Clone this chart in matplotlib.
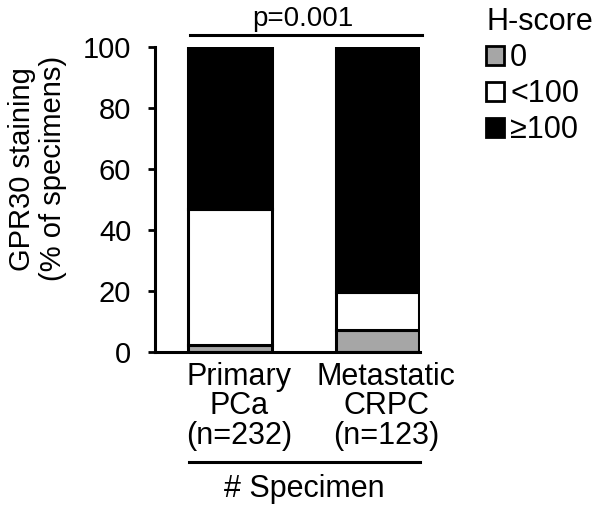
import matplotlib
matplotlib.use('Agg')
import matplotlib.pyplot as plt
import matplotlib.transforms as mtransforms
from matplotlib.patches import Patch

plt.rcParams['font.family'] = ['Liberation Sans', 'DejaVu Sans']

# data (% of specimens)
groups = ['Primary\nPCa\n(n=232)', 'Metastatic\nCRPC\n(n=123)']
score_labels = ['0', '<100', '≥100']
score_colors = ['#a6a6a6', 'white', 'black']
score_0 = [2.2, 7.3]
score_lt100 = [44.5, 12.4]
score_ge100 = [53.3, 80.3]

fig = plt.figure(figsize=(6, 5.12), dpi=100)
ax = fig.add_axes([0.258, 0.3125, 0.442, 0.596])

x = [0, 1]
bottom = [0, 0]
for vals, col in zip([score_0, score_lt100, score_ge100], score_colors):
    ax.bar(x, vals, width=0.565, bottom=bottom, color=col,
           edgecolor='black', linewidth=2.2)
    bottom = [b + v for b, v in zip(bottom, vals)]

ax.set_xlim(-0.51, 1.29)
ax.set_ylim(0, 100)
ax.set_yticks([0, 20, 40, 60, 80, 100])
ax.tick_params(axis='y', labelsize=21, width=2, length=5, pad=12, direction='out')
ax.set_xticks(x)
ax.set_xticklabels(groups, fontsize=22, linespacing=0.98)
ax.tick_params(axis='x', length=0, pad=7)
# labels sit a bit right of the bar centres in the original
shift = mtransforms.ScaledTranslation(0.09, 0, fig.dpi_scale_trans)
for lab in ax.get_xticklabels():
    lab.set_transform(lab.get_transform() + shift)
for s in ['top', 'right']:
    ax.spines[s].set_visible(False)
for s in ['left', 'bottom']:
    ax.spines[s].set_linewidth(2.2)

ax.set_ylabel('GPR30 staining\n(% of specimens)', fontsize=21, linespacing=1.15)
ax.yaxis.set_label_coords(-0.33, 0.6)

# significance line
fig.add_artist(plt.Line2D([0.317, 0.703], [0.932, 0.932], color='black', lw=2.2))
fig.text(0.505, 0.962, 'p=0.001', ha='center', va='center', fontsize=20)

# specimen line
fig.add_artist(plt.Line2D([0.315, 0.70], [0.098, 0.098], color='black', lw=2.2))
fig.text(0.508, 0.045, '# Specimen', ha='center', va='center', fontsize=22)

handles = [Patch(facecolor=c, edgecolor='black', linewidth=2) for c in score_colors]
fig.legend(handles, score_labels, title='H-score', loc='upper left',
           bbox_to_anchor=(0.79, 1.01), frameon=False, fontsize=22,
           title_fontsize=22, handlelength=0.58, handleheight=0.58,
           handletextpad=0.2, labelspacing=0.2, borderaxespad=0,
           alignment='left')

fig.savefig('out.png', dpi=100)
